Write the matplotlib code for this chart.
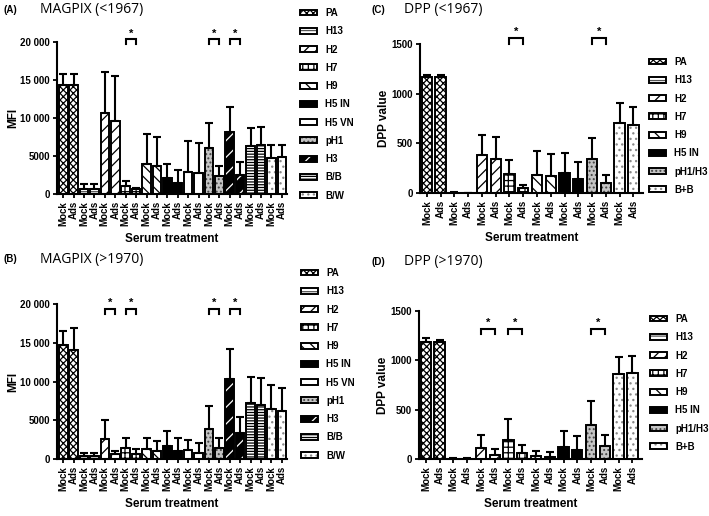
import numpy as np
import matplotlib
matplotlib.use("Agg")
import matplotlib.pyplot as plt

plt.rcParams["font.family"] = ["Liberation Sans", "DejaVu Sans"]
plt.rcParams["hatch.linewidth"] = 0.9

# ---- data ----
antigens_ab = ["PA", "H13", "H2", "H7", "H9", "H5 IN", "H5 VN", "pH1", "H3", "B/B", "B/W"]
antigens_cd = ["PA", "H13", "H2", "H7", "H9", "H5 IN", "pH1/H3", "B+B"]

# MAGPIX (<1967)
a_mock = [14300, 600, 10700, 1050, 4000, 2050, 2900, 6000, 8200, 6350, 4700]
a_mock_sd = [1450, 670, 5400, 650, 3900, 1950, 4100, 3300, 3300, 2350, 1700]
a_ads = [14300, 600, 9600, 600, 3700, 1500, 2800, 2400, 2500, 6500, 4850]
a_ads_sd = [1450, 670, 5900, 150, 3800, 1700, 3900, 1300, 1700, 2250, 1650]
a_sig = ["H7", "pH1", "H3"]

# MAGPIX (>1970)
b_mock = [14700, 430, 2600, 1400, 1300, 1700, 1100, 3860, 10300, 7200, 6500]
b_mock_sd = [1800, 340, 2400, 1300, 1400, 1950, 1400, 2940, 3900, 3350, 3000]
b_ads = [14100, 430, 600, 600, 1070, 1070, 770, 1460, 3350, 6950, 6200]
b_ads_sd = [2850, 300, 430, 700, 1290, 1590, 1330, 1240, 2010, 3450, 3000]
b_sig = ["H2", "H7", "pH1", "H3"]

# DPP (<1967)
c_mock = [1165, 3, 381, 195, 179, 202, 347, 701]
c_mock_sd = [25, 5, 199, 135, 246, 199, 209, 209]
c_ads = [1165, 0, 344, 50, 172, 145, 101, 688]
c_ads_sd = [25, 0, 219, 34, 219, 168, 81, 182]
c_sig = ["H7", "pH1/H3"]

# DPP (>1970)
d_mock = [1189, 3, 115, 189, 30, 118, 345, 858]
d_mock_sd = [34, 3, 128, 213, 48, 166, 243, 179]
d_ads = [1182, 3, 37, 64, 24, 88, 132, 868]
d_ads_sd = [24, 3, 61, 75, 47, 148, 111, 179]
d_sig = ["H2", "H7", "pH1/H3"]

# fill colour, hatch, hatch colour
STYLES = {
    "PA": ("white", "xxxxx", "black"),
    "H13": ("white", "---", "#555555"),
    "H2": ("white", "///", "black"),
    "H7": ("white", "+++", "black"),
    "H9": ("white", "\\\\\\", "black"),
    "H5 IN": ("black", "", "black"),
    "H5 VN": ("white", "", "black"),
    "pH1": ("#c4c4c4", "....", "#444444"),
    "pH1/H3": ("#c4c4c4", "....", "#444444"),
    "H3": ("black", "//", "white"),
    "B/B": ("white", "------", "black"),
    "B/W": ("white", "...", "#888888"),
    "B+B": ("white", "...", "#888888"),
}


def draw_panel(ax, antigens, mock, mock_sd, ads, ads_sd, sig, ymax, yticks, ylabels,
               width, bracket, xpad):
    n = len(antigens)
    handles = []
    for i, ag in enumerate(antigens):
        fc, hatch, hc = STYLES[ag]
        xs = [2 * i, 2 * i + 1]
        vals = [mock[i], ads[i]]
        face = ax.bar(xs, vals, width, color=fc, hatch=hatch, edgecolor=hc, linewidth=0)
        edge = ax.bar(xs, vals, width, fill=False, edgecolor="black", linewidth=1.4)
        ax.errorbar(xs, vals, yerr=[[0, 0], [mock_sd[i], ads_sd[i]]], fmt="none",
                    ecolor="black", elinewidth=1.5, capsize=2.6, capthick=1.5)
        handles.append((face[0], edge[0]))
        if ag in sig:
            lo, hi, star = bracket
            ax.plot([xs[0], xs[0], xs[1], xs[1]], [lo, hi, hi, lo], color="black",
                    lw=1.5, clip_on=False, solid_joinstyle="miter")
            ax.text(np.mean(xs), star, "*", ha="center", va="center", fontsize=8,
                    fontweight="bold", clip_on=False)
    ax.set_ylim(0, ymax)
    ax.set_xlim(-xpad[0], 2 * n - 1 + xpad[1])
    ax.set_yticks(yticks, ylabels, fontsize=7, fontweight="bold")
    ax.set_xticks(np.arange(2 * n), ["Mock", "Ads"] * n, rotation=90, fontsize=7,
                  fontweight="bold")
    for s in ["top", "right"]:
        ax.spines[s].set_visible(False)
    for s in ["left", "bottom"]:
        ax.spines[s].set_linewidth(1.5)
    ax.tick_params(axis="both", width=1.3, length=3, pad=2)
    return handles


fig = plt.figure(figsize=(7.09, 5.16), dpi=100)
W, H = 709, 516


def add_ax(left, right, top, bottom):
    return fig.add_axes([left / W, 1 - bottom / H, (right - left) / W, (bottom - top) / H])


mfi_ticks = [0, 5000, 10000, 15000, 20000]
mfi_labels = ["0", "5000", "10 000", "15 000", "20 000"]
dpp_ticks = [0, 500, 1000, 1500]
dpp_labels = ["0", "500", "1000", "1500"]

ax_a = add_ax(57, 287, 42, 194)
h_a = draw_panel(ax_a, antigens_ab, a_mock, a_mock_sd, a_ads, a_ads_sd, a_sig, 20000,
                 mfi_ticks, mfi_labels, 0.82, (19700, 20350, 21050), (0.6, 0.5))
ax_b = add_ax(57, 287, 304, 459)
h_b = draw_panel(ax_b, antigens_ab, b_mock, b_mock_sd, b_ads, b_ads_sd, b_sig, 20000,
                 mfi_ticks, mfi_labels, 0.82, (18700, 19400, 20200), (0.6, 0.5))
ax_c = add_ax(420, 643, 44, 193)
h_c = draw_panel(ax_c, antigens_cd, c_mock, c_mock_sd, c_ads, c_ads_sd, c_sig, 1500,
                 dpp_ticks, dpp_labels, 0.75, (1500, 1560, 1620), (0.5, 0.7))
ax_d = add_ax(419, 642, 311, 459)
h_d = draw_panel(ax_d, antigens_cd, d_mock, d_mock_sd, d_ads, d_ads_sd, d_sig, 1500,
                 dpp_ticks, dpp_labels, 0.75, (1265, 1320, 1385), (0.5, 0.7))

for ax, lab in [(ax_a, "MFI"), (ax_b, "MFI"), (ax_c, "DPP value"), (ax_d, "DPP value")]:
    ax.set_ylabel(lab, fontsize=8.5, fontweight="bold", labelpad=1)
    ax.set_xlabel("Serum treatment", fontsize=8.5, fontweight="bold", labelpad=5)

for ax, handles, labels, (lx, ly) in [
        (ax_a, h_a, antigens_ab, (300, 8)),
        (ax_b, h_b, antigens_ab, (301, 268)),
        (ax_c, h_c, antigens_cd, (649, 57)),
        (ax_d, h_d, antigens_cd, (650, 314))]:
    leg = fig.legend(handles, labels, loc="upper left", bbox_to_anchor=(lx / W, 1 - ly / H),
                     frameon=False, fontsize=7, handlelength=1.7, handleheight=0.55,
                     handletextpad=0.9, labelspacing=0.85, borderpad=0, borderaxespad=0)
    for t in leg.get_texts():
        t.set_fontweight("bold")

titles = [(3, 10, "(A)", 40, "MAGPIX (<1967)"),
          (3, 259, "(B)", 40, "MAGPIX (>1970)"),
          (371, 10, "(C)", 404, "DPP (<1967)"),
          (371, 262, "(D)", 404, "DPP (>1970)")]
for x1, y, tag, x2, name in titles:
    fig.text(x1 / W, 1 - y / H, tag, fontsize=7, fontweight="bold", va="center")
    fig.text(x2 / W, 1 - y / H, name, fontsize=10, family="Open Sans", va="center")

fig.savefig("out.png", dpi=100)
